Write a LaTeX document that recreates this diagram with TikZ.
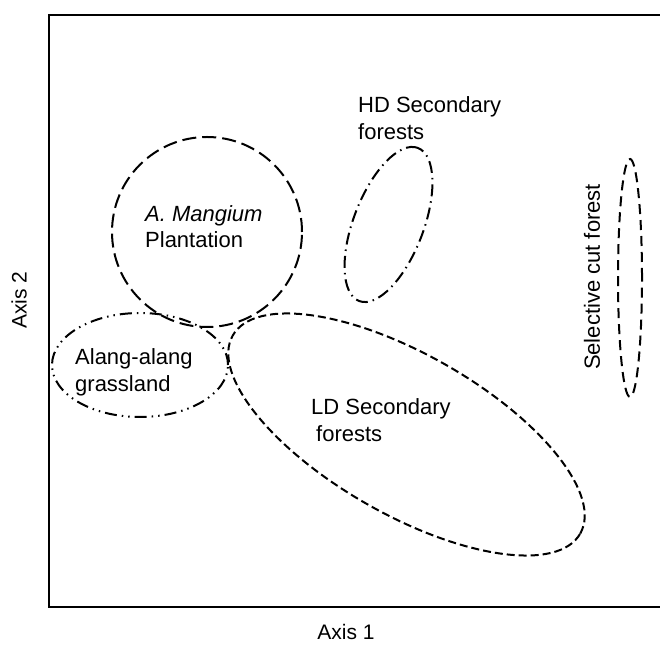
\documentclass[tikz,border=0pt]{standalone}
\usepackage{fontspec}
\setmainfont{Liberation Sans}
\begin{document}
\begin{tikzpicture}[x=1pt,y=1pt,
  lab/.style={inner sep=0pt, anchor=base west, font=\fontsize{22}{26}\selectfont},
  axlab/.style={inner sep=0pt, font=\fontsize{21}{25}\selectfont},
  group/.style={line width=2pt},
  dashlong/.style={group, dash pattern=on 14pt off 6pt},
  dashdotdot/.style={group, dash pattern=on 12pt off 5pt on 1.5pt off 5pt on 1.5pt off 5pt},
  dashdot/.style={group, dash pattern=on 12pt off 5pt on 1.5pt off 5pt},
  dashmed/.style={group, dash pattern=on 10pt off 6pt},
  dashfine/.style={group, dash pattern=on 8pt off 4pt}]
\useasboundingbox (0,0) rectangle (660,644);
% frame
\coordinate (ftr) at (662,629);
\coordinate (ftl) at (49,629);
\coordinate (fbl) at (49,37);
\coordinate (fbr) at (662,37);
\draw[line width=2.4pt] (ftr) -- (ftl) -- (fbl) -- (fbr);
% axis labels
\node[axlab] (ax1) at (346,12) {Axis 1};
\node[axlab, rotate=90] (ax2) at (19,344) {Axis 2};
% groups
\draw[dashlong] (207,412) circle [radius=95];
\draw[dashdotdot] (140,279) ellipse [x radius=88, y radius=52];
\draw[dashdot, rotate around={69:(388.5,419.5)}] (388.5,419.5) ellipse [x radius=82, y radius=35];
\draw[dashmed] (630,366) ellipse [x radius=12, y radius=119];
\draw[dashfine, rotate around={-29.7:(406.5,209.5)}] (406.5,209.5) ellipse [x radius=200, y radius=80];
% labels
\node[lab] (hd1) at (358,531) {HD Secondary};
\node[lab] (hd2) at (358,504) {forests};
\node[lab] (am1) at (145,422) {\itshape A. Mangium};
\node[lab] (am2) at (145,396) {Plantation};
\node[lab] (aa1) at (75,279) {Alang-alang};
\node[lab] (aa2) at (75,252) {grassland};
\node[lab] (ld1) at (311,229) {LD Secondary};
\node[lab] (ld2) at (316,202) {forests};
\node[inner sep=0pt, rotate=90, font=\fontsize{22}{26}\selectfont] (sc) at (592,367) {Selective cut forest};
\end{tikzpicture}
\end{document}
